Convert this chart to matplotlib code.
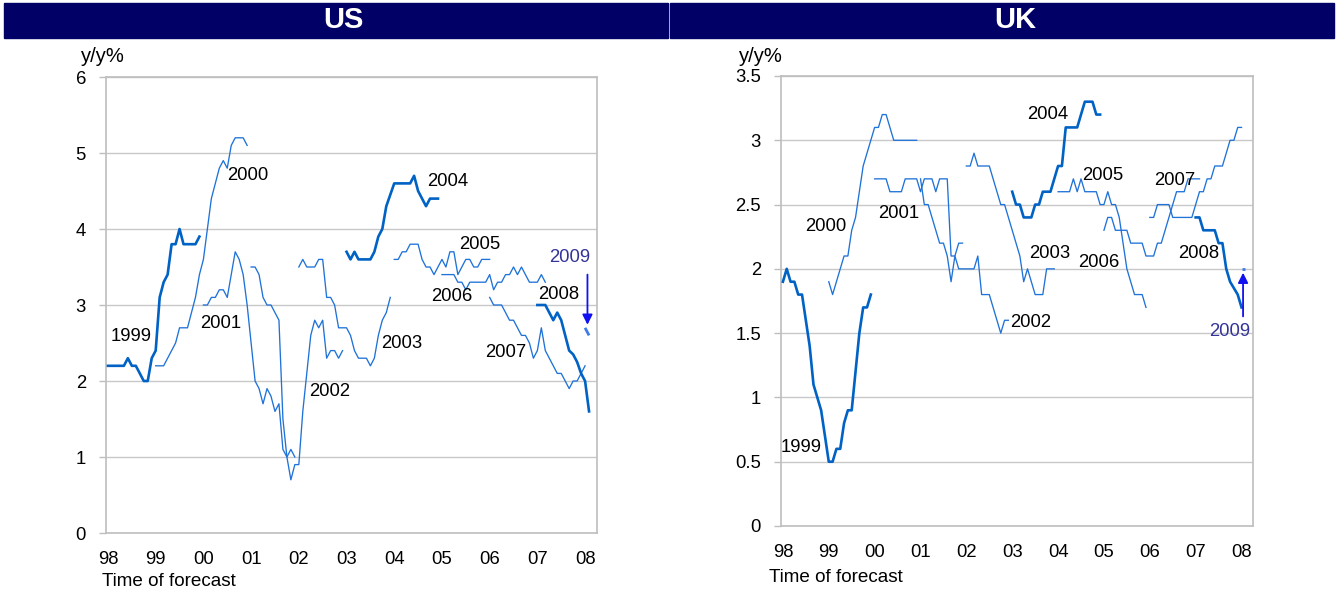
import matplotlib
matplotlib.use("Agg")
import matplotlib.pyplot as plt
from matplotlib.patches import Rectangle

plt.rcParams['font.family'] = ['Liberation Sans', 'DejaVu Sans']

# ---------------- data (monthly forecasts, first month = Jan of year-1) ----------------
tick_labels = ["98", "99", "00", "01", "02", "03", "04", "05", "06", "07", "08"]
years = [1999, 2000, 2001, 2002, 2003, 2004, 2005, 2006, 2007, 2008, 2009]

us_1999 = [2.2, 2.2, 2.2, 2.2, 2.2, 2.3, 2.2, 2.2, 2.1, 2.0, 2.0, 2.3, 2.4, 3.1, 3.3, 3.4, 3.8, 3.8, 4.0, 3.8, 3.8, 3.8, 3.8, 3.9]
us_2000 = [2.2, 2.2, 2.2, 2.3, 2.4, 2.5, 2.7, 2.7, 2.7, 2.9, 3.1, 3.4, 3.6, 4.0, 4.4, 4.6, 4.8, 4.9, 4.8, 5.1, 5.2, 5.2, 5.2, 5.1]
us_2001 = [3.0, 3.0, 3.1, 3.1, 3.2, 3.2, 3.1, 3.4, 3.7, 3.6, 3.4, 3.0, 2.5, 2.0, 1.9, 1.7, 1.9, 1.8, 1.6, 1.7, 1.1, 1.0, 1.1, 1.0]
us_2002 = [3.5, 3.5, 3.4, 3.1, 3.0, 3.0, 2.9, 2.8, 1.5, 1.0, 0.7, 0.9, 0.9, 1.6, 2.1, 2.6, 2.8, 2.7, 2.8, 2.3, 2.4, 2.4, 2.3, 2.4]
us_2003 = [3.5, 3.6, 3.5, 3.5, 3.5, 3.6, 3.6, 3.1, 3.1, 3.0, 2.7, 2.7, 2.7, 2.6, 2.4, 2.3, 2.3, 2.3, 2.2, 2.3, 2.6, 2.8, 2.9, 3.1]
us_2004 = [3.7, 3.6, 3.7, 3.6, 3.6, 3.6, 3.6, 3.7, 3.9, 4.0, 4.3, 4.45, 4.6, 4.6, 4.6, 4.6, 4.6, 4.7, 4.5, 4.4, 4.3, 4.4, 4.4, 4.4]
us_2005 = [3.6, 3.6, 3.7, 3.7, 3.8, 3.8, 3.8, 3.6, 3.5, 3.5, 3.4, 3.5, 3.6, 3.5, 3.7, 3.7, 3.4, 3.5, 3.6, 3.6, 3.5, 3.5, 3.6, 3.6, 3.6]
us_2006 = [3.4, 3.4, 3.4, 3.4, 3.3, 3.3, 3.2, 3.3, 3.3, 3.3, 3.3, 3.3, 3.4, 3.2, 3.3, 3.3, 3.4, 3.4, 3.5, 3.4, 3.5, 3.4, 3.3, 3.3, 3.3, 3.4, 3.3]
us_2007 = [3.1, 3.0, 3.0, 3.0, 2.9, 2.8, 2.8, 2.7, 2.6, 2.6, 2.5, 2.3, 2.4, 2.7, 2.4, 2.3, 2.2, 2.1, 2.1, 2.0, 1.9, 2.0, 2.0, 2.1, 2.2]
us_2008 = [3.0, 3.0, 3.0, 2.9, 2.8, 2.9, 2.8, 2.6, 2.4, 2.35, 2.25, 2.1, 2.0, 1.6]
us_2009 = [2.7, 2.6]

uk_1999 = [1.9, 2.0, 1.9, 1.9, 1.8, 1.8, 1.6, 1.4, 1.1, 1.0, 0.9, 0.7, 0.5, 0.5, 0.6, 0.6, 0.8, 0.9, 0.9, 1.2, 1.5, 1.7, 1.7, 1.8]
uk_2000 = [1.9, 1.8, 1.9, 2.0, 2.1, 2.1, 2.3, 2.4, 2.6, 2.8, 2.9, 3.0, 3.1, 3.1, 3.2, 3.2, 3.1, 3.0, 3.0, 3.0, 3.0, 3.0, 3.0, 3.0]
uk_2001 = [2.7, 2.7, 2.7, 2.7, 2.6, 2.6, 2.6, 2.6, 2.7, 2.7, 2.7, 2.7, 2.6, 2.7, 2.7, 2.7, 2.6, 2.7, 2.7, 2.7, 2.1, 2.1, 2.2, 2.2]
uk_2002 = [2.7, 2.5, 2.5, 2.4, 2.3, 2.2, 2.2, 2.1, 1.9, 2.1, 2.0, 2.0, 2.0, 2.0, 2.0, 2.1, 1.8, 1.8, 1.8, 1.7, 1.6, 1.5, 1.6, 1.6]
uk_2003 = [2.8, 2.8, 2.9, 2.8, 2.8, 2.8, 2.8, 2.7, 2.6, 2.5, 2.5, 2.4, 2.3, 2.2, 2.1, 1.9, 2.0, 1.9, 1.8, 1.8, 1.8, 2.0, 2.0, 2.0]
uk_2004 = [2.6, 2.5, 2.5, 2.4, 2.4, 2.4, 2.5, 2.5, 2.6, 2.6, 2.6, 2.7, 2.8, 2.8, 3.1, 3.1, 3.1, 3.1, 3.2, 3.3, 3.3, 3.3, 3.2, 3.2]
uk_2005 = [2.6, 2.6, 2.6, 2.6, 2.7, 2.6, 2.7, 2.6, 2.6, 2.6, 2.6, 2.5, 2.5, 2.6, 2.5, 2.5, 2.4, 2.2, 2.0, 1.9, 1.8, 1.8, 1.8, 1.7]
uk_2006 = [2.3, 2.4, 2.4, 2.3, 2.3, 2.3, 2.3, 2.2, 2.2, 2.2, 2.2, 2.1, 2.1, 2.1, 2.2, 2.2, 2.3, 2.4, 2.5, 2.6, 2.6, 2.6, 2.7, 2.7, 2.7, 2.7]
uk_2007 = [2.4, 2.4, 2.5, 2.5, 2.5, 2.5, 2.4, 2.4, 2.4, 2.4, 2.4, 2.4, 2.5, 2.6, 2.6, 2.7, 2.7, 2.8, 2.8, 2.8, 2.9, 3.0, 3.0, 3.1, 3.1]
uk_2008 = [2.4, 2.4, 2.3, 2.3, 2.3, 2.3, 2.2, 2.2, 2.0, 1.9, 1.85, 1.8, 1.7]
uk_2009 = [2.0, 2.0]

us_series = [us_1999, us_2000, us_2001, us_2002, us_2003, us_2004, us_2005, us_2006, us_2007, us_2008, us_2009]
uk_series = [uk_1999, uk_2000, uk_2001, uk_2002, uk_2003, uk_2004, uk_2005, uk_2006, uk_2007, uk_2008, uk_2009]

# ---------------- layout / style ----------------
W, H = 1336, 594
fig = plt.figure(figsize=(W / 100, H / 100), dpi=100)

THIN = '#1F72D8'
THICK = '#0062C4'
LIGHT = '#3F7CE6'
thick_years = {1999, 2004, 2008}

# label positions (month index, value)
us_label_pos = {1999: (5.8, 2.59), 2000: (35.2, 4.70), 2001: (28.4, 2.75), 2002: (55.8, 1.86),
                2003: (73.9, 2.49), 2004: (85.4, 4.63), 2005: (93.5, 3.79), 2006: (86.4, 3.11),
                2007: (100.0, 2.38), 2008: (113.3, 3.14), 2009: (116.1, 3.63)}
uk_label_pos = {1999: (4.7, 0.61), 2000: (11.3, 2.33), 2001: (30.4, 2.43), 2002: (64.7, 1.58),
                2003: (69.7, 2.12), 2004: (69.4, 3.20), 2005: (83.8, 2.73), 2006: (82.7, 2.05),
                2007: (102.6, 2.69), 2008: (108.7, 2.12), 2009: (117.0, 1.51)}


def axrect(l, t, r, b):
    return [l / W, (H - b) / H, (r - l) / W, (b - t) / H]


def draw_panel(ax, series, label_pos, ymax, ystep, arrow):
    for yr, vals in zip(years, series):
        start = 12 * (yr - 1999)
        xs = list(range(start, start + len(vals)))
        if yr == 2009:
            ax.plot(xs, vals, color=LIGHT, lw=2.0, solid_capstyle='butt', zorder=3)
        elif yr in thick_years:
            ax.plot(xs, vals, color=THICK, lw=1.9, zorder=3)
        else:
            ax.plot(xs, vals, color=THIN, lw=0.95, zorder=2)
    for yr, (lx, ly) in label_pos.items():
        ax.text(lx, ly, str(yr), ha='center', va='center', fontsize=13.3,
                color='#333399' if yr == 2009 else 'black', zorder=4)
    (ax0, y0), (ax1, y1) = arrow
    ax.annotate('', xy=(ax1, y1), xytext=(ax0, y0),
                arrowprops=dict(arrowstyle='-|>', color='#1010F0', lw=1.3,
                                mutation_scale=15, shrinkA=0, shrinkB=0), zorder=5)
    ax.set_xlim(-0.5, 123)
    ax.set_ylim(0, ymax)
    ax.set_xticks([12 * i for i in range(len(tick_labels))])
    ax.set_xticklabels(tick_labels)
    n = int(round(ymax / ystep))
    yt = [i * ystep for i in range(n + 1)]
    ax.set_yticks(yt)
    ax.set_yticklabels([('%g' % v) for v in yt])
    ax.grid(axis='y', color='#C8C8C8', lw=1.0, zorder=0)
    ax.set_axisbelow(True)
    for s in ax.spines.values():
        s.set_color('#BEBEBE')
        s.set_linewidth(1.2)
    ax.tick_params(axis='x', length=0, pad=13, labelsize=13.3)
    ax.tick_params(axis='y', length=5, width=1.0, color='#BEBEBE', pad=9.4, labelsize=13.3)


ax_us = fig.add_axes(axrect(106, 77, 597, 533))
draw_panel(ax_us, us_series, us_label_pos, 6, 1, ((120.6, 3.4), (120.6, 2.74)))

ax_uk = fig.add_axes(axrect(781, 76, 1253, 526))
draw_panel(ax_uk, uk_series, uk_label_pos, 3.5, 0.5, ((120.4, 1.63), (120.4, 1.97)))

# header bars
for (l, r, name, cx) in [(4, 668, 'US', 343), (670, 1334, 'UK', 1015)]:
    fig.patches.append(Rectangle((l / W, (H - 38) / H), (r - l) / W, 35 / H,
                                 transform=fig.transFigure, color='#000066', zorder=0))
    fig.text(cx / W, (H - 20) / H, name, ha='center', va='center', color='white',
             fontsize=21, fontweight='bold')

fig.text(81 / W, (H - 57) / H, 'y/y%', ha='left', va='center', fontsize=14.5)
fig.text(739 / W, (H - 57) / H, 'y/y%', ha='left', va='center', fontsize=14.5)
fig.text(102 / W, (H - 581) / H, 'Time of forecast', ha='left', va='center', fontsize=13.6)
fig.text(769 / W, (H - 578) / H, 'Time of forecast', ha='left', va='center', fontsize=13.6)

fig.savefig('out.png', dpi=100, facecolor='white')
